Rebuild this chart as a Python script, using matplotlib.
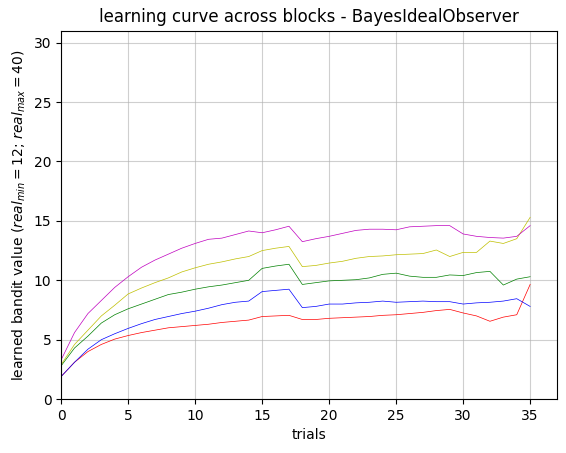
import matplotlib
matplotlib.use("Agg")
import matplotlib.pyplot as plt

trials = list(range(36))

magenta = [3.3, 5.6, 7.2, 8.3, 9.4, 10.3, 11.1, 11.7, 12.2, 12.7, 13.1, 13.45, 13.55, 13.85, 14.15, 14.0, 14.25, 14.55,
           13.25, 13.5, 13.7, 13.95, 14.2, 14.3, 14.3, 14.25, 14.5, 14.55, 14.6, 14.6, 13.9, 13.7, 13.6, 13.55, 13.7, 14.6]
yellow = [2.9, 4.6, 5.8, 7.0, 7.9, 8.85, 9.35, 9.8, 10.2, 10.7, 11.05, 11.35, 11.55, 11.8, 12.0, 12.5, 12.7, 12.85,
          11.15, 11.25, 11.45, 11.6, 11.85, 12.0, 12.05, 12.15, 12.2, 12.25, 12.55, 12.0, 12.35, 12.35, 13.3, 13.1, 13.5, 15.3]
green = [2.8, 4.3, 5.3, 6.4, 7.1, 7.6, 8.0, 8.4, 8.8, 9.0, 9.25, 9.45, 9.6, 9.8, 10.0, 11.0, 11.2, 11.35,
         9.65, 9.8, 9.95, 10.0, 10.05, 10.2, 10.5, 10.6, 10.35, 10.25, 10.25, 10.45, 10.4, 10.65, 10.75, 9.6, 10.1, 10.3]
blue = [1.9, 3.1, 4.2, 5.0, 5.5, 5.95, 6.35, 6.7, 6.95, 7.2, 7.4, 7.65, 7.95, 8.15, 8.25, 9.05, 9.15, 9.25,
        7.7, 7.8, 8.0, 8.0, 8.1, 8.15, 8.25, 8.15, 8.2, 8.25, 8.2, 8.2, 8.0, 8.1, 8.15, 8.25, 8.45, 7.8]
red = [1.9, 3.1, 4.0, 4.6, 5.05, 5.35, 5.6, 5.8, 6.0, 6.1, 6.2, 6.3, 6.45, 6.55, 6.65, 6.95, 7.0, 7.05,
       6.7, 6.7, 6.8, 6.85, 6.9, 6.95, 7.05, 7.1, 7.2, 7.3, 7.45, 7.55, 7.25, 7.0, 6.55, 6.9, 7.1, 9.65]

fig, ax = plt.subplots(figsize=(5.66, 4.53), dpi=100)
for vals, c in [(red, 'r'), (blue, 'b'), (green, 'g'), (yellow, 'y'), (magenta, 'm')]:
    ax.plot(trials, vals, color=c, linewidth=0.5)

ax.set_xlim(0, 37)
ax.set_ylim(0, 31)
ax.grid(True, alpha=0.6)
ax.set_xlabel('trials')
ax.set_ylabel(r'learned bandit value ($real_{min}=12$; $real_{max}=40$)')
ax.set_title('learning curve across blocks - BayesIdealObserver')
fig.subplots_adjust(left=0.108, right=0.984, bottom=0.119, top=0.932)
fig.savefig('out.png')
